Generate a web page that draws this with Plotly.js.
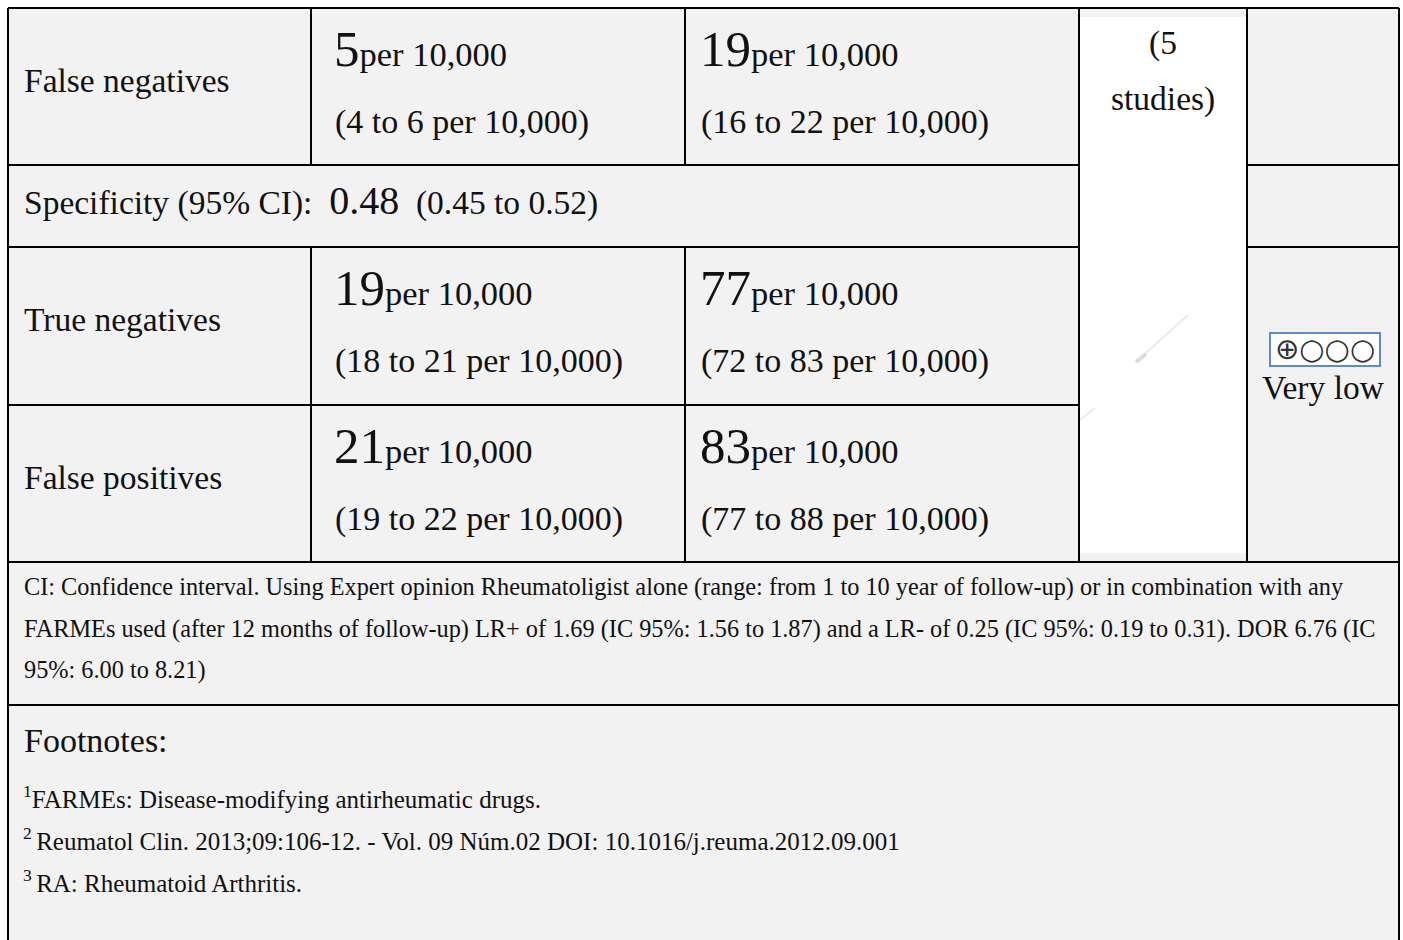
<!DOCTYPE html>
<html><head><meta charset="utf-8">
<script src="https://cdn.plot.ly/plotly-3.0.1.min.js"></script>
<style>html,body{margin:0;padding:0;background:#fff}</style>
</head><body><div id="chart" style="width:1403px;height:940px"></div>
<script>
// ---- data ----
const rowLabels = ["False negatives", "True negatives", "False positives"];
const prevAValues = [5, 19, 21];
const prevACI = ["4 to 6", "18 to 21", "19 to 22"];
const prevBValues = [19, 77, 83];
const prevBCI = ["16 to 22", "72 to 83", "77 to 88"];
const unitText = "per 10,000";
const specificity = "0.48";
const specificityCI = "0.45 to 0.52";
const studiesLines = ["(5", "studies)"];
const qualitySymbol = "⊕○○○";
const qualityText = "Very low";
const noteLines = [
  "CI: Confidence interval. Using Expert opinion Rheumatoligist alone (range: from 1 to 10 year of follow-up) or in combination with any",
  "FARMEs used (after 12 months of follow-up) LR+ of 1.69 (IC 95%: 1.56 to 1.87) and a LR- of 0.25 (IC 95%: 0.19 to 0.31). DOR 6.76 (IC",
  "95%: 6.00 to 8.21)"
];
const footTitle = "Footnotes:";
const footSup = ["1", "2 ", "3 "];
const footLines = [
  "FARMEs: Disease-modifying antirheumatic drugs.",
  "Reumatol Clin. 2013;09:106-12. - Vol. 09 Núm.02 DOI: 10.1016/j.reuma.2012.09.001",
  "RA: Rheumatoid Arthritis."
];

// ---- layout geometry ----
const FONT = "Liberation Serif, DejaVu Serif, serif";
const CELL = "#f2f2f2";
const X = [8, 311, 685, 1079, 1247, 1399];
const Y = [8, 165, 247, 405, 562, 705, 960];
const rowTop = [Y[0], Y[2], Y[3]];

const shapes = [];
function rect(x0, y0, x1, y1, fill) {
  shapes.push({type: "rect", xref: "x", yref: "y", x0, y0, x1, y1, fillcolor: fill, line: {width: 0}, layer: "below"});
}
function line(x0, y0, x1, y1, w, c) {
  shapes.push({type: "line", xref: "x", yref: "y", x0, y0, x1, y1, line: {color: c || "#000", width: w || 2}});
}
// backgrounds
rect(X[0], Y[0], X[5], Y[6], CELL);
rect(X[3], Y[0] + 9, X[4], Y[4] - 9, "#ffffff");
// faint diagonal artifacts
line(1137, 361, 1188, 315, 1.5, "#e4e4e4");
line(1136, 362, 1146, 354, 4, "#dcdcdc");
line(1080, 420, 1095, 408, 1.5, "#e4e4e4");
// outer borders
line(X[0], Y[0], X[5], Y[0]);
line(X[0], Y[0], X[0], Y[6]);
line(X[5], Y[0], X[5], Y[6]);
// horizontal lines
line(X[0], Y[1], X[3], Y[1]);
line(X[4], Y[1], X[5], Y[1]);
line(X[0], Y[2], X[3], Y[2]);
line(X[4], Y[2], X[5], Y[2]);
line(X[0], Y[3], X[3], Y[3]);
line(X[0], Y[4], X[5], Y[4]);
line(X[0], Y[5], X[5], Y[5]);
// vertical lines
[X[1], X[2]].forEach(x => { line(x, Y[0], x, Y[1]); line(x, Y[2], x, Y[4]); });
line(X[3], Y[0], X[3], Y[4]);
line(X[4], Y[0], X[4], Y[4]);
// quality box
shapes.push({type: "rect", xref: "x", yref: "y", x0: 1270, y0: 333, x1: 1380, y1: 366,
  fillcolor: "#ffffff", line: {color: "#5b8bd0", width: 2}});

const ann = [];
function txt(x, y, text, size, xanchor, extra) {
  ann.push(Object.assign({xref: "x", yref: "y", x, y, text, showarrow: false,
    xanchor: xanchor || "left", yanchor: "middle", align: "left",
    font: {family: FONT, size: size, color: "#111"}}, extra || {}));
}
for (let i = 0; i < rowLabels.length; i++) {
  const t = rowTop[i];
  txt(22, t + 72, rowLabels[i], 33.5);
  txt(332, t + 41, '<span style="font-size:51px">' + prevAValues[i] + '</span>' + unitText, 34.5);
  txt(333, t + 114, "(" + prevACI[i] + " " + unitText + ")", 34);
  txt(698, t + 41, '<span style="font-size:51px">' + prevBValues[i] + '</span>' + unitText, 34.5);
  txt(699, t + 114, "(" + prevBCI[i] + " " + unitText + ")", 34);
}
txt(22, 200, 'Specificity (95% CI):  <span style="font-size:40px">' + specificity + '</span>  (' + specificityCI + ')', 33.5);
txt(1163, 43, studiesLines[0], 33.5, "center");
txt(1163, 99, studiesLines[1], 33.5, "center");
txt(1325, 349, qualitySymbol, 28, "center", {font: {family: "DejaVu Sans", size: 29, color: "#333"}});
txt(1323, 387, qualityText, 33.5, "center");
noteLines.forEach((s, i) => txt(22, 587 + i * 41.5, s, 24.3));
txt(22, 740, footTitle, 34);
footLines.forEach((s, i) => txt(21, 797 + i * 42, '<sup>' + footSup[i] + '</sup>' + s, 25));

Plotly.newPlot("chart", [], {
  width: 1403, height: 940,
  margin: {l: 0, r: 0, t: 0, b: 0},
  paper_bgcolor: "#ffffff", plot_bgcolor: "#ffffff",
  xaxis: {range: [0, 1403], visible: false, fixedrange: true},
  yaxis: {range: [940, 0], visible: false, fixedrange: true},
  showlegend: false,
  shapes: shapes,
  annotations: ann
}, {staticPlot: true, displayModeBar: false});
</script></body></html>
